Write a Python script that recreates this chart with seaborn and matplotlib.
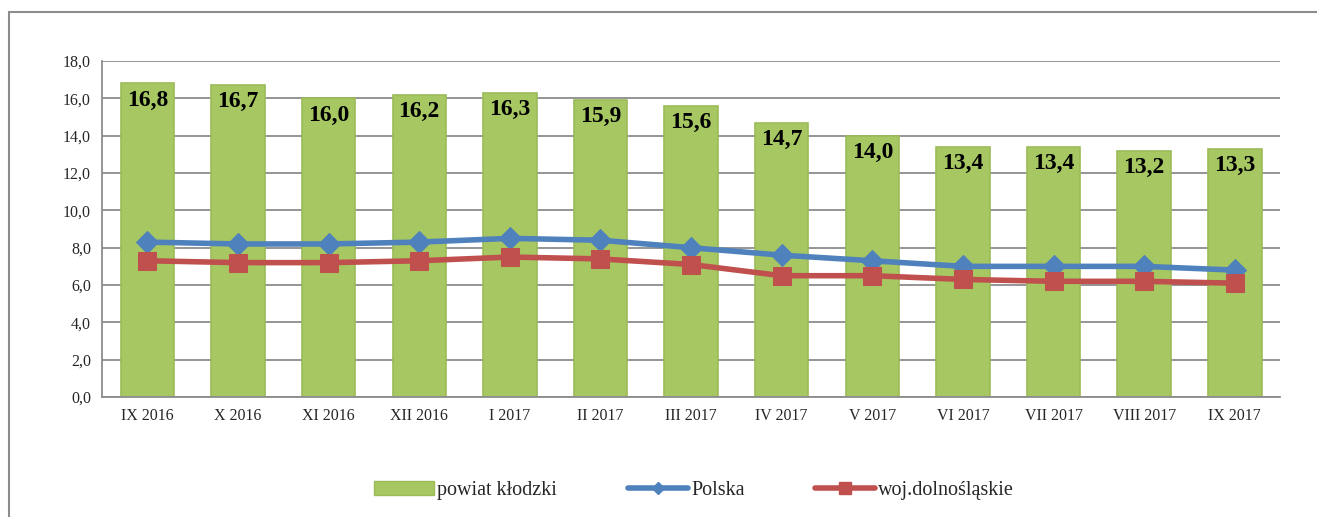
import numpy as np
import pandas as pd
import matplotlib
matplotlib.use("Agg")
import matplotlib.pyplot as plt
import seaborn as sns
from matplotlib.patches import Rectangle, Patch
from matplotlib.lines import Line2D

months = ["IX 2016", "X 2016", "XI 2016", "XII 2016", "I 2017", "II 2017", "III 2017",
          "IV 2017", "V 2017", "VI 2017", "VII 2017", "VIII 2017", "IX 2017"]
powiat = [16.8, 16.7, 16.0, 16.2, 16.3, 15.9, 15.6, 14.7, 14.0, 13.4, 13.4, 13.2, 13.3]
polska = [8.3, 8.2, 8.2, 8.3, 8.5, 8.4, 8.0, 7.6, 7.3, 7.0, 7.0, 7.0, 6.8]
dolnoslaskie = [7.3, 7.2, 7.2, 7.3, 7.5, 7.4, 7.1, 6.5, 6.5, 6.3, 6.2, 6.2, 6.1]
yticks = [0, 2, 4, 6, 8, 10, 12, 14, 16, 18]

sns.set_style("white")
plt.rcParams['font.family'] = ['Liberation Serif', 'DejaVu Serif']

fig = plt.figure(figsize=(13.17, 5.17), dpi=100)
ax = fig.add_axes([0.0775, 0.232, 0.8945, 0.650])

df = pd.DataFrame({"month": months, "powiat": powiat})
sns.barplot(data=df, x="month", y="powiat", color="#A6C761", width=0.59,
            edgecolor="#9BBB59", linewidth=1.2, saturation=1, ax=ax, zorder=2)

idx = np.arange(len(months))
sns.lineplot(x=idx, y=polska, color="#4F81BD", lw=4, marker="D", markersize=11,
             markeredgecolor="#4F81BD", ax=ax, zorder=4)
sns.lineplot(x=idx, y=dolnoslaskie, color="#C0504D", lw=4, marker="s", markersize=13,
             markeredgecolor="#C0504D", ax=ax, zorder=5)

for i, v in enumerate(powiat):
    ax.annotate(f"{v:.1f}".replace(".", ","), (i, v), xytext=(0, -12),
                textcoords="offset points", ha="center", va="center",
                fontsize=17, fontweight="bold", color="black", zorder=6)

ax.set_ylim(0, 18)
ax.set_xlim(-0.5, len(months) - 0.5)
ax.set_yticks(yticks)
ax.set_yticklabels([f"{t:.1f}".replace(".", ",") for t in yticks], fontsize=11.5)
ax.set_xticks(idx)
ax.set_xticklabels(months, fontsize=11.5)
ax.set_xlabel("")
ax.set_ylabel("")
ax.yaxis.grid(True, color="#8C8C8C", lw=1.3, zorder=0)
ax.set_axisbelow(True)
for s in ["top", "right"]:
    ax.spines[s].set_visible(False)
for s in ["left", "bottom"]:
    ax.spines[s].set_color("#8C8C8C")
    ax.spines[s].set_linewidth(1.3)
ax.tick_params(axis="both", length=0, pad=8)

handles = [
    Patch(facecolor="#A6C761", edgecolor="#9BBB59", label="powiat kłodzki"),
    Line2D([0], [0], color="#4F81BD", lw=4, marker="D", markersize=6, label="Polska"),
    Line2D([0], [0], color="#C0504D", lw=4, marker="s", markersize=9, label="woj.dolnośląskie"),
]
fig.legend(handles=handles, loc="center", bbox_to_anchor=(0.527, 0.052), ncol=3,
           frameon=False, fontsize=14.5, columnspacing=3.5, handlelength=3.0,
           handletextpad=0.15)

fig.add_artist(Rectangle((0.0068, -0.1), 1.2, 0.977 + 0.1, transform=fig.transFigure,
                         fill=False, edgecolor="#8C8C8C", lw=1.5, clip_on=False))

fig.savefig("out.png", dpi=100)
